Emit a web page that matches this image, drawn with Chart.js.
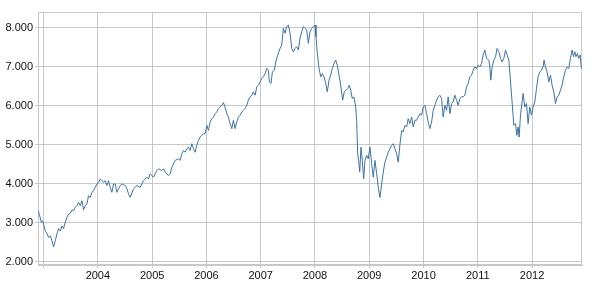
<!DOCTYPE html>
<html>
<head>
<meta charset="utf-8">
<title>Index 2003-2012</title>
<script src="https://cdn.jsdelivr.net/npm/chart.js@4/dist/chart.umd.min.js"></script>
<style>
    html, body { margin: 0; padding: 0; background: #fff; }
    canvas { display: block; }
</style>
</head>
<body>
<canvas id="indexChart" width="594" height="284"></canvas>
<script>
// dates as fractional years
var weekDates = [
    2002.897, 2002.921, 2002.958, 2002.982,
    2003.007, 2003.031, 2003.063, 2003.092, 2003.123, 2003.155, 2003.184, 2003.215, 2003.247, 2003.276,
    2003.307, 2003.339, 2003.368, 2003.399, 2003.431, 2003.460, 2003.491, 2003.523, 2003.552, 2003.583,
    2003.615, 2003.644, 2003.676, 2003.707, 2003.736, 2003.768, 2003.799, 2003.828, 2003.860, 2003.891,
    2003.920, 2003.952, 2003.983,
    2004.012, 2004.044, 2004.075, 2004.104, 2004.136, 2004.167, 2004.196, 2004.228, 2004.259, 2004.288,
    2004.320, 2004.351, 2004.380, 2004.412, 2004.443, 2004.472, 2004.504, 2004.535, 2004.565, 2004.596,
    2004.657, 2004.719, 2004.780, 2004.841, 2004.903, 2004.933, 2004.964,
    2005.025, 2005.087, 2005.117, 2005.179, 2005.209, 2005.240, 2005.301, 2005.332, 2005.363, 2005.424,
    2005.485, 2005.516, 2005.547, 2005.577, 2005.608, 2005.639, 2005.669, 2005.700, 2005.731, 2005.761,
    2005.792, 2005.823, 2005.853, 2005.884, 2005.915, 2005.945, 2005.976,
    2006.008, 2006.037, 2006.068, 2006.100, 2006.129, 2006.160, 2006.192, 2006.221, 2006.252,
    2006.284, 2006.313, 2006.344, 2006.376, 2006.405, 2006.436, 2006.468, 2006.497, 2006.528, 2006.560,
    2006.589, 2006.620, 2006.652, 2006.681, 2006.712, 2006.744, 2006.773, 2006.804, 2006.836, 2006.865,
    2006.897, 2006.928, 2006.957, 2006.989,
    2007.020, 2007.049, 2007.081, 2007.112, 2007.141, 2007.160, 2007.191, 2007.215, 2007.252, 2007.278,
    2007.314, 2007.357, 2007.388, 2007.418, 2007.449, 2007.480, 2007.510, 2007.541, 2007.572, 2007.602,
    2007.633, 2007.664, 2007.694, 2007.725, 2007.756, 2007.786, 2007.817, 2007.848, 2007.878, 2007.909,
    2007.940, 2007.970,
    2008.001, 2008.019, 2008.043, 2008.075, 2008.106, 2008.135, 2008.167, 2008.198, 2008.227, 2008.259,
    2008.290, 2008.319, 2008.351, 2008.382, 2008.411, 2008.443, 2008.474, 2008.511, 2008.540, 2008.572,
    2008.603, 2008.632, 2008.658, 2008.688, 2008.719, 2008.750, 2008.768, 2008.787, 2008.805, 2008.824,
    2008.848, 2008.872, 2008.897, 2008.921, 2008.953, 2008.982,
    2009.013, 2009.045, 2009.074, 2009.105, 2009.137, 2009.166, 2009.197, 2009.229, 2009.258, 2009.289,
    2009.321, 2009.350, 2009.381, 2009.413, 2009.442, 2009.473, 2009.505, 2009.534, 2009.565,
    2009.597, 2009.626, 2009.657, 2009.689, 2009.718, 2009.749, 2009.781, 2009.810, 2009.842, 2009.873,
    2009.902, 2009.934, 2009.965, 2009.994,
    2010.026, 2010.057, 2010.086, 2010.118, 2010.149, 2010.178, 2010.210, 2010.241, 2010.270, 2010.302,
    2010.333, 2010.362, 2010.394, 2010.425, 2010.454, 2010.486, 2010.517, 2010.546, 2010.578, 2010.609,
    2010.638, 2010.670, 2010.701, 2010.731, 2010.762, 2010.793, 2010.823, 2010.854, 2010.885, 2010.915,
    2010.946, 2010.977,
    2011.007, 2011.038, 2011.069, 2011.099,
    2011.130, 2011.161, 2011.204, 2011.222, 2011.240, 2011.264, 2011.296, 2011.327, 2011.356, 2011.388,
    2011.419, 2011.448, 2011.480, 2011.511, 2011.540, 2011.572, 2011.603, 2011.632, 2011.664, 2011.695,
    2011.719, 2011.743, 2011.761, 2011.787, 2011.805, 2011.835, 2011.866, 2011.897, 2011.927, 2011.958,
    2011.990,
    2012.019, 2012.050, 2012.082, 2012.111, 2012.142, 2012.174, 2012.203, 2012.221, 2012.247, 2012.277,
    2012.308, 2012.339, 2012.369, 2012.400, 2012.431, 2012.461, 2012.492, 2012.523, 2012.553, 2012.584,
    2012.615, 2012.645, 2012.676, 2012.707, 2012.737, 2012.763, 2012.787, 2012.810, 2012.836, 2012.860,
    2012.884, 2012.910
];

// index level at each date
var indexValues = [
    3310, 3220, 3010, 3050,
    2920, 2790, 2720, 2620, 2665, 2535, 2380, 2535, 2720, 2850,
    2790, 2920, 2850, 3010, 3140, 3220, 3240, 3330, 3310, 3395,
    3440, 3525, 3440, 3565, 3330, 3440, 3480, 3695, 3650, 3780,
    3825, 3910, 3995,
    4040, 4125, 4080, 4040, 4080, 3955, 4080, 3910, 3780, 3995,
    3995, 3780, 3870, 3955, 3995, 3975, 3955, 3875, 3740, 3650,
    3870, 3955, 3910, 4080, 4170, 4125, 4255,
    4170, 4340, 4385, 4340, 4385, 4300, 4210, 4255, 4425, 4600,
    4640, 4600, 4770, 4855, 4810, 4900, 4940, 4855, 5030, 4900,
    4810, 4985, 5115, 5200, 5245, 5285, 5285,
    5500, 5370, 5585, 5670, 5715, 5800, 5845, 5930, 5970,
    6015, 6085, 5970, 5800, 5715, 5545, 5415, 5630, 5415, 5585,
    5715, 5760, 5845, 5885, 5930, 6015, 6145, 6230, 6275, 6360,
    6275, 6490, 6530, 6615,
    6705, 6745, 6830, 6960, 6915, 6615, 6575, 6875, 6915, 7130,
    7305, 7475, 7560, 7990, 7865, 8035, 8075, 7865, 7475, 7390,
    7475, 7520, 7435, 7735, 7905, 8035, 7990, 7950, 7605, 7905,
    7990, 8035,
    8075, 7775, 7350, 6960, 6745, 6830, 6745, 6575, 6360, 6660,
    6790, 6960, 7090, 7175, 7045, 6790, 6530, 6145, 6360, 6400,
    6445, 6530, 6400, 6190, 6230, 5970, 5630, 4770, 4600, 4300,
    4940, 4600, 4125, 4600, 4730, 4640,
    4940, 4515, 4170, 4600, 4255, 3910, 3650, 3995, 4300, 4555,
    4685, 4810, 4900, 4985, 5030, 4900, 4770, 4555, 5000,
    5370, 5330, 5500, 5460, 5670, 5545, 5715, 5460, 5630, 5630,
    5715, 5800, 5760, 5970,
    6015, 5800, 5585, 5415, 5585, 5885, 6015, 6145, 6230, 6275,
    6190, 5715, 6015, 5885, 6230, 5800, 6060, 6100, 6275, 6145,
    6015, 6190, 6230, 6230, 6275, 6490, 6575, 6745, 6790, 6915,
    7000, 6960,
    7045, 7000, 7090, 7305,
    7435, 7220, 7175, 7000, 6660, 7000, 7175, 7260, 7475, 7390,
    7220, 7130, 7220, 7435, 7305, 7175, 6615, 6100, 5500, 5545,
    5245, 5460, 5200, 5760, 5970, 6320, 5970, 6060, 5545, 5970,
    5760,
    5970, 6100, 6445, 6745, 6875, 6915, 7000, 7175, 7000, 6875,
    6615, 6790, 6530, 6360, 6060, 6230, 6275, 6400, 6530, 6745,
    6915, 7000, 6960, 7220, 7435, 7260, 7390, 7260, 7350, 7220,
    7305, 6960
];

var yearTicks = [2003, 2004, 2005, 2006, 2007, 2008, 2009, 2010, 2011, 2012];
var levelTicks = [2000, 3000, 4000, 5000, 6000, 7000, 8000];

(function () {
    'use strict';

    var gridColor = '#c8c8c8';
    var tickFont = { family: "'Liberation Sans', Arial, sans-serif", size: 11 };

    // 8000 -> "8.000"
    function formatLevel(v) {
        return String(v).replace(/\B(?=(\d{3})+(?!\d))/g, '.');
    }

    var points = [];
    for (var i = 0; i < weekDates.length; i++) {
        points.push({ x: weekDates[i], y: indexValues[i] });
    }

    // frame round the plot area (top and right edges)
    var framePlugin = {
        id: 'frame',
        beforeDatasetsDraw: function (chart) {
            var a = chart.chartArea;
            var ctx = chart.ctx;
            ctx.save();
            ctx.strokeStyle = gridColor;
            ctx.lineWidth = 1;
            ctx.strokeRect(a.left + 0.5, a.top + 0.5, a.right - a.left - 1, a.bottom - a.top - 1);
            ctx.restore();
        }
    };

    var ctx = document.getElementById('indexChart').getContext('2d');
    new Chart(ctx, {
        type: 'line',
        data: {
            datasets: [{
                data: points,
                borderColor: '#3d73a5',
                borderWidth: 1,
                pointRadius: 0,
                tension: 0,
                fill: false
            }]
        },
        options: {
            responsive: false,
            animation: false,
            layout: { padding: { top: 12, right: 12, left: 0, bottom: 0 } },
            plugins: {
                legend: { display: false },
                tooltip: { enabled: false }
            },
            scales: {
                x: {
                    type: 'linear',
                    min: weekDates[0],
                    max: 2012.92,
                    afterBuildTicks: function (scale) {
                        scale.ticks = yearTicks.map(function (v) { return { value: v }; });
                    },
                    afterFit: function (scale) { scale.height = 19; },
                    grid: { color: gridColor, tickLength: 3 },
                    border: { color: gridColor },
                    ticks: {
                        autoSkip: false,
                        maxRotation: 0,
                        padding: 1,
                        color: '#111',
                        font: tickFont,
                        // 2003 sits on the left edge and has no label
                        callback: function (v) { return v === yearTicks[0] ? '' : String(v); }
                    }
                },
                y: {
                    min: 1915,
                    max: 8410,
                    afterBuildTicks: function (scale) {
                        scale.ticks = levelTicks.map(function (v) { return { value: v }; });
                    },
                    afterFit: function (scale) { scale.width = 38; },
                    grid: { color: gridColor, tickLength: 3 },
                    border: { color: gridColor },
                    ticks: {
                        padding: 2,
                        color: '#111',
                        font: tickFont,
                        callback: function (v) { return formatLevel(v); }
                    }
                }
            }
        },
        plugins: [framePlugin]
    });
})();
</script>
</body>
</html>
